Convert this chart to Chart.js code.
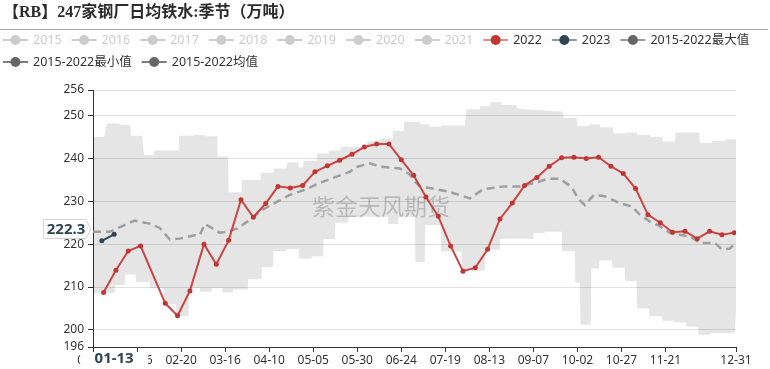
<!DOCTYPE html>
<html>
<head>
<meta charset="utf-8">
<script src="https://cdn.jsdelivr.net/npm/chart.js@4.4.1/dist/chart.umd.min.js"></script>
<style>
  html, body { margin: 0; padding: 0; background: #fff; }
  #wrap { width: 770px; height: 369px; }
</style>
</head>
<body>
<div id="wrap"><canvas id="chart" width="770" height="369"></canvas></div>
<script>
// x axis: day of a (leap) season year, ticks every 25 days
const xTickDays = [0, 25, 50, 75, 100, 125, 150, 175, 200, 225, 250, 275, 300, 325, 365];
const xTickLabels = ['01-01', '01-26', '02-20', '03-16', '04-10', '05-05', '05-30', '06-24',
                     '07-19', '08-13', '09-07', '10-02', '10-27', '11-21', '12-31'];
const yTicks = [196, 200, 210, 220, 230, 240, 250, 256];

// weekly series
const dates2022 = ['01-07', '01-14', '01-21', '01-28', '02-11', '02-18', '02-25', '03-04', '03-11', '03-18',
                   '03-25', '04-01', '04-08', '04-15', '04-22', '04-29', '05-06', '05-13', '05-20', '05-27',
                   '06-03', '06-10', '06-17', '06-24', '07-01', '07-08', '07-15', '07-22', '07-29', '08-05',
                   '08-12', '08-19', '08-26', '09-02', '09-09', '09-16', '09-23', '09-30', '10-07', '10-14',
                   '10-21', '10-28', '11-04', '11-11', '11-18', '11-25', '12-02', '12-09', '12-16', '12-23', '12-30'];
const values2022 = [208.7, 213.9, 218.4, 219.6, 206.2, 203.3, 209.1, 220.0, 215.3, 220.9,
                    230.4, 226.3, 229.5, 233.5, 233.1, 233.7, 236.9, 238.3, 239.6, 241.0,
                    242.7, 243.4, 243.4, 239.7, 236.1, 231.0, 226.5, 219.6, 213.7, 214.5,
                    218.8, 225.9, 229.6, 233.7, 235.6, 238.2, 240.2, 240.3, 240.0, 240.3,
                    238.2, 236.5, 233.0, 226.9, 225.0, 222.8, 223.0, 221.3, 223.0, 222.2, 222.7];
const dates2023 = ['01-06', '01-13'];
const values2023 = [220.8, 222.3];

// 2015-2022 envelope (day of year, value)
const maxDays = [0, 6.2, 8, 15, 15.3, 21.2, 21.5, 27.8, 29, 34.5,
                 35, 48.3, 48.7, 57, 57.3, 63.4, 63.7, 70.6, 70.8, 76.7,
                 77, 84.3, 84.6, 95, 95.2, 102.2, 102.6, 109.8, 110.2, 116.4,
                 116.8, 119, 119.6, 126.9, 127.2, 133.4, 133.8, 140.5, 140.8, 155.4,
                 155.7, 162.8, 163.1, 170, 170.3, 176.4, 176.7, 185.5, 185.8, 190.8,
                 191.1, 197.3, 197.6, 211, 212, 219.6, 219.9, 225.3, 225.6, 231.9,
                 232.2, 240.4, 240.7, 253.7, 266.7, 267.1, 274.5, 274.9, 281.1, 281.5,
                 287.7, 288.1, 295.1, 295.5, 302, 302.3, 308.6, 309, 316.1, 316.4,
                 323.1, 323.5, 330.3, 330.7, 344.1, 344.5, 351.2, 351.5, 358.7, 359.1, 365];
const maxVals = [245, 245, 248.2, 248.2, 247.8, 247.8, 245.3, 245.3, 240.8, 240.8,
                 241.9, 241.9, 245.3, 245.3, 245.5, 245.5, 245.2, 245.2, 240.5, 240.5,
                 232.1, 232.1, 235, 235, 236.7, 236.7, 237.7, 237.7, 239.1, 239.1,
                 237.9, 237.9, 239.4, 239.4, 241.2, 241.2, 241.9, 241.9, 242.7, 242.7,
                 244, 244, 244.7, 244.7, 246.4, 246.4, 248.6, 248.6, 248, 248,
                 247.4, 247.4, 247.7, 247.7, 251.5, 251.5, 252.2, 252.2, 253.2, 253.2,
                 252.5, 252.5, 251.7, 251.3, 250.9, 249.5, 249.5, 247.6, 247.6, 248,
                 248, 247.3, 247.3, 245.9, 245.9, 246.1, 246.1, 245.5, 245.5, 245.1,
                 245.1, 244, 244, 246.1, 246.1, 243.6, 243.6, 244.1, 244.1, 244.5, 244.5];
const minDays = [0, 12.3, 12.6, 18, 18.3, 24.2, 24.5, 32.2, 32.5, 40.1,
                 40.4, 47, 47.3, 54.3, 54.6, 60.6, 60.9, 67.2, 67.5, 73.4,
                 73.7, 79.3, 79.6, 87.8, 88.1, 95.6, 95.9, 102.2, 102.5, 109.8,
                 110.1, 116.8, 117.1, 124, 124.3, 130.6, 130.9, 137.3, 137.6, 144.8,
                 145.1, 167.5, 167.8, 173.2, 173.5, 182.7, 183, 188.3, 188.6, 197.6,
                 197.9, 209.3, 209.6, 222.3, 222.6, 230.9, 231.2, 249.9, 250.2, 256.3,
                 256.6, 266, 266.3, 273.5, 273.8, 276.4, 276.7, 282.6, 282.9, 287.2,
                 287.5, 294.5, 294.8, 301.8, 302.1, 308.6, 308.9, 315.7, 316, 322.8,
                 323.1, 329.4, 329.7, 336.6, 336.9, 343.6, 343.9, 350.2, 350.5, 364.4, 365];
const minVals = [208.6, 208.6, 210.5, 210.5, 212.9, 212.9, 211.2, 211.2, 209.8, 209.8,
                 206, 206, 203.2, 203.2, 209.8, 209.8, 208.9, 208.9, 209.8, 209.8,
                 208.7, 208.7, 209.4, 209.4, 211.8, 211.8, 214.7, 214.7, 218.4, 218.4,
                 218.9, 218.9, 216.6, 216.6, 217.2, 217.2, 221.2, 221.2, 225, 225,
                 226.4, 226.4, 224.7, 224.7, 226.4, 226.4, 215.8, 215.8, 224.5, 224.5,
                 218.3, 218.3, 213.8, 213.8, 218.7, 218.7, 221.3, 221.3, 222.6, 222.6,
                 222.9, 222.9, 218.4, 218.4, 211, 211, 201.2, 201.2, 214.3, 214.3,
                 216.2, 216.2, 214.5, 214.5, 211.4, 211.4, 205, 205, 203.2, 203.2,
                 202.1, 202.1, 201.7, 201.7, 200.7, 200.7, 198.8, 198.8, 199.2, 199.2, 205];
const meanDays = [0, 9.5, 17, 23.7, 29.4, 32.2, 37.9, 43.6, 49.2, 57.7,
                  60.6, 63.4, 67.9, 71.8, 76.3, 82, 85.9, 90.5, 94.6, 103.1,
                  111.7, 120.2, 128.7, 137.2, 145.8, 148.6, 157.2, 162.8, 174.1, 179.8,
                  182.7, 185.5, 191.2, 202.5, 213.9, 221.3, 233.8, 242.3, 250.8, 258.2,
                  265, 271.8, 275.2, 279.2, 284.3, 290.5, 299, 305.9, 310.4, 316.1,
                  321.8, 327.5, 333.2, 338.9, 344.5, 353, 357, 361.5, 365];
const meanVals = [222.9, 222.9, 224.3, 225.5, 225, 224.8, 223.8, 221.1, 221.3, 222.1,
                  222.1, 224.7, 223.7, 222.7, 222.9, 223.7, 224.8, 226, 227.7, 229.6,
                  231.5, 232.7, 234.3, 235.6, 236.9, 237.9, 238.9, 238.1, 237.7, 236.3,
                  234.6, 233.5, 233.1, 232.2, 230.7, 232.8, 233.5, 233.5, 234.3, 235.3,
                  235.3, 233.3, 230.8, 229.1, 231.5, 231.2, 229.6, 228.8, 226.9, 225.3,
                  224.2, 222.6, 222.2, 221.8, 220.3, 220.3, 218.8, 219, 220.3];

const legendNames = ['2015', '2016', '2017', '2018', '2019', '2020', '2021', '2022', '2023',
                     '2015-2022最大值', '2015-2022最小值', '2015-2022均值'];
const legendColors = ['#ccc', '#ccc', '#ccc', '#ccc', '#ccc', '#ccc', '#ccc', '#c23531', '#2f4554',
                      '#666', '#666', '#666'];
const legendLineColors = ['#ccc', '#ccc', '#ccc', '#ccc', '#ccc', '#ccc', '#ccc',
                          'rgba(194,53,49,0.55)', 'rgba(47,69,84,0.55)',
                          'rgba(102,102,102,0.65)', 'rgba(102,102,102,0.85)', 'rgba(102,102,102,0.85)'];

const pointerDay = '01-13';
const pointerValue = '222.3';

const FONT = '"Noto Sans", "Noto Sans CJK SC", sans-serif';
const CJK = '"Noto Sans CJK SC", sans-serif';

// leap year offsets so that 03-16 falls on day 75
const monthStart = [0, 31, 60, 91, 121, 152, 182, 213, 244, 274, 305, 335];
function dayOfYear(md) {
    const [m, d] = md.split('-').map(Number);
    return monthStart[m - 1] + d - 1;
}
function toPoints(xs, ys) {
    return xs.map((x, i) => ({ x: x, y: ys[i] }));
}

// title, legend, watermark and axis pointer labels
const decorations = {
    id: 'decorations',
    beforeDatasetsDraw(chart) {
        const ctx = chart.ctx;
        ctx.save();
        ctx.font = '23px ' + CJK;
        ctx.fillStyle = 'rgba(0,0,0,0.2)';
        ctx.textAlign = 'center';
        ctx.textBaseline = 'middle';
        ctx.fillText('紫金天风期货', 381, 206);
        ctx.restore();
    },
    afterDraw(chart) {
        const ctx = chart.ctx;
        const xs = chart.scales.x;
        ctx.save();

        // title
        ctx.font = 'bold 16px "Liberation Serif", "Noto Sans CJK SC", serif';
        ctx.fillStyle = '#2b2b2b';
        ctx.textBaseline = 'middle';
        ctx.textAlign = 'left';
        ctx.fillText('【RB】247家钢厂日均铁水:季节（万吨）', 3, 13);
        ctx.strokeStyle = '#aaa';
        ctx.lineWidth = 1;
        ctx.beginPath();
        ctx.moveTo(0, 29.5);
        ctx.lineTo(768, 29.5);
        ctx.stroke();

        // legend
        ctx.font = '12.5px ' + FONT;
        let lx = 3, ly = 40;
        legendNames.forEach((name, i) => {
            const w = ctx.measureText(name).width;
            if (lx + 30 + w > 768) { lx = 3; ly += 22; }
            ctx.strokeStyle = legendLineColors[i];
            ctx.lineWidth = 2;
            ctx.beginPath();
            ctx.moveTo(lx, ly);
            ctx.lineTo(lx + 25, ly);
            ctx.stroke();
            ctx.fillStyle = legendColors[i];
            ctx.beginPath();
            ctx.arc(lx + 12.5, ly, 5, 0, Math.PI * 2);
            ctx.fill();
            ctx.fillStyle = legendColors[i] === '#ccc' ? '#ccc' : '#333';
            ctx.fillText(name, lx + 30, ly + 0.5);
            lx += 30 + w + 10;
        });

        // x pointer label
        const px = xs.getPixelForValue(dayOfYear(pointerDay));
        ctx.fillStyle = '#fff';
        ctx.fillRect(px - 34, 353, 68, 16);
        ctx.font = 'bold 15px ' + FONT;
        ctx.fillStyle = '#2f4554';
        ctx.textAlign = 'center';
        ctx.fillText(pointerDay, px, 359);

        // y pointer label
        ctx.beginPath();
        ctx.moveTo(43.5, 219.5);
        ctx.lineTo(86, 219.5);
        ctx.lineTo(91, 229);
        ctx.lineTo(86, 238.5);
        ctx.lineTo(43.5, 238.5);
        ctx.closePath();
        ctx.fillStyle = '#fff';
        ctx.fill();
        ctx.strokeStyle = '#d4d4d4';
        ctx.lineWidth = 1;
        ctx.stroke();
        ctx.fillStyle = '#2f4554';
        ctx.fillText(pointerValue, 66, 229.5);
        ctx.restore();
    }
};

new Chart(document.getElementById('chart').getContext('2d'), {
    type: 'line',
    data: {
        datasets: [
            {
                label: '2023',
                data: toPoints(dates2023.map(dayOfYear), values2023),
                borderColor: '#2f4554',
                backgroundColor: '#2f4554',
                borderWidth: 2,
                pointRadius: 2.5,
                pointBorderWidth: 0,
                order: 0
            },
            {
                label: '2022',
                data: toPoints(dates2022.map(dayOfYear), values2022),
                borderColor: 'rgba(200,50,50,0.9)',
                backgroundColor: '#c23531',
                borderWidth: 2,
                pointRadius: 2.5,
                pointBorderWidth: 0,
                order: 1
            },
            {
                label: '2015-2022均值',
                data: toPoints(meanDays, meanVals),
                borderColor: '#9e9e9e',
                borderWidth: 2.5,
                borderDash: [8, 5],
                pointRadius: 0,
                order: 2
            },
            {
                label: '2015-2022最大值',
                data: toPoints(maxDays, maxVals),
                borderWidth: 0,
                pointRadius: 0,
                fill: '+1',
                backgroundColor: 'rgba(0,0,0,0.1)',
                order: 3
            },
            {
                label: '2015-2022最小值',
                data: toPoints(minDays, minVals),
                borderWidth: 0,
                pointRadius: 0,
                fill: false,
                order: 4
            }
        ]
    },
    options: {
        responsive: false,
        animation: false,
        devicePixelRatio: 1,
        events: [],
        layout: { padding: { top: 90, left: 0, right: 34, bottom: 0 } },
        plugins: {
            legend: { display: false },
            title: { display: false },
            tooltip: { enabled: false }
        },
        scales: {
            x: {
                type: 'linear',
                min: 0,
                max: 365,
                afterBuildTicks: s => { s.ticks = xTickDays.map(v => ({ value: v })); },
                afterFit: s => { s.height = 22; },
                ticks: {
                    autoSkip: false,
                    maxRotation: 0,
                    padding: 1,
                    color: '#333',
                    font: { size: 12, family: FONT },
                    callback: v => xTickLabels[xTickDays.indexOf(v)]
                },
                grid: { drawOnChartArea: false, tickColor: '#333', tickLength: 5 },
                border: { color: '#333' }
            },
            y: {
                min: 196,
                max: 256,
                afterBuildTicks: s => { s.ticks = yTicks.map(v => ({ value: v })); },
                afterFit: s => { s.width = 93; },
                ticks: {
                    padding: 4,
                    color: '#333',
                    font: { size: 12, family: FONT }
                },
                grid: {
                    color: c => (c.tick && c.tick.value === 196) ? 'rgba(0,0,0,0)' : '#e0e0e0',
                    tickColor: '#333',
                    tickLength: 5
                },
                border: { color: '#333' }
            }
        }
    },
    plugins: [decorations]
});
</script>
</body>
</html>
